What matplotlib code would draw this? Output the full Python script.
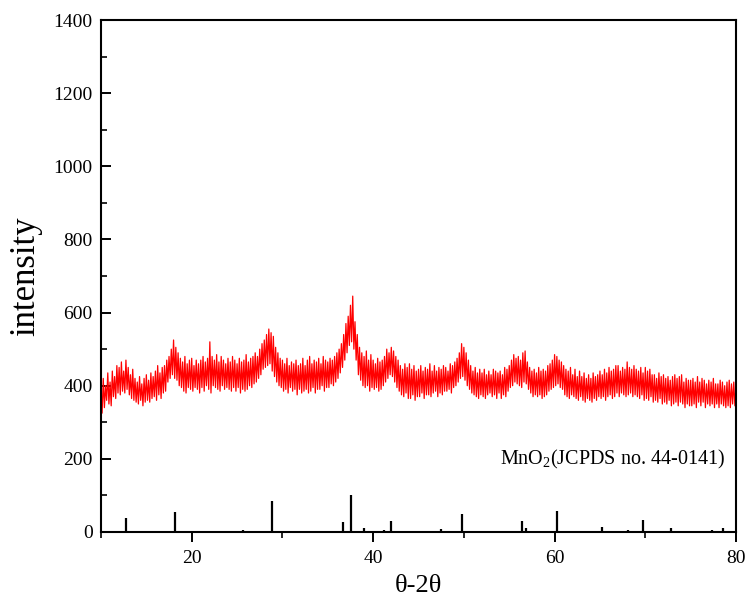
import numpy as np
import matplotlib
matplotlib.use("Agg")
import matplotlib.pyplot as plt
from matplotlib.ticker import MultipleLocator

plt.rcParams['font.family'] = ['Liberation Serif', 'DejaVu Serif']
plt.rcParams['mathtext.fontset'] = 'custom'
plt.rcParams['mathtext.rm'] = 'Liberation Serif'

# --- measured pattern, read off the scan:
# local maxima every 0.25 deg from 10.0, local minima every 0.25 deg from 10.125
start_hi, start_lo, step = 10.0, 10.125, 0.25
upper = [390, 420, 400, 435, 410, 440, 425, 455, 450, 465, 440, 470,
         450, 430, 445, 420, 410, 425, 405, 420, 430, 415, 435, 425,
         440, 455, 435, 450, 455, 470, 480, 500, 525, 505, 490, 475,
         465, 480, 460, 470, 475, 455, 470, 460, 470, 480, 465, 475,
         520, 480, 470, 485, 465, 480, 470, 460, 475, 465, 480, 470,
         460, 475, 465, 470, 485, 465, 475, 480, 490, 480, 500, 515,
         525, 540, 555, 545, 535, 505, 490, 475, 470, 460, 475, 455,
         465, 460, 470, 455, 460, 475, 455, 470, 480, 460, 470, 465,
         475, 460, 480, 470, 465, 475, 470, 480, 490, 500, 515, 540,
         570, 590, 620, 645, 575, 540, 505, 490, 480, 495, 470, 485,
         470, 460, 475, 465, 470, 480, 500, 490, 505, 495, 480, 470,
         455, 445, 460, 450, 460, 445, 455, 440, 445, 455, 440, 450,
         445, 460, 440, 455, 440, 450, 445, 455, 450, 440, 460, 455,
         465, 475, 490, 515, 505, 490, 470, 455, 440, 450, 435, 445,
         435, 445, 430, 440, 430, 445, 440, 435, 440, 430, 450, 445,
         455, 470, 485, 475, 480, 470, 490, 495, 465, 450, 440, 445,
         435, 450, 440, 445, 440, 455, 460, 470, 485, 480, 470, 465,
         455, 445, 440, 450, 430, 445, 425, 440, 425, 435, 420, 430,
         420, 435, 425, 430, 440, 430, 445, 435, 450, 440, 445, 455,
         455, 440, 450, 445, 465, 450, 445, 455, 445, 440, 450, 435,
         450, 440, 445, 430, 430, 420, 435, 425, 430, 420, 425, 415,
         425, 430, 420, 425, 430, 410, 420, 415, 415, 420, 410, 425,
         410, 420, 415, 405, 415, 410, 420, 405, 405, 415, 410, 400,
         410, 415, 405, 410, 400]
lower = [325, 340, 360, 350, 345, 370, 365, 380, 375, 385, 380, 390,
         375, 365, 360, 355, 350, 360, 345, 355, 360, 355, 365, 370,
         360, 375, 365, 380, 385, 410, 420, 430, 420, 415, 400, 395,
         385, 380, 395, 390, 385, 395, 390, 380, 395, 385, 400, 390,
         380, 400, 395, 390, 385, 400, 390, 395, 390, 385, 395, 385,
         395, 380, 390, 385, 390, 400, 395, 405, 410, 420, 430, 445,
         450, 455, 460, 440, 425, 410, 400, 395, 385, 390, 380, 395,
         385, 390, 375, 390, 380, 385, 390, 380, 385, 395, 380, 390,
         390, 400, 385, 395, 395, 405, 400, 410, 420, 435, 450, 470,
         490, 510, 520, 500, 470, 430, 415, 400, 395, 400, 385, 395,
         390, 395, 385, 390, 400, 410, 420, 430, 425, 410, 395, 385,
         375, 370, 380, 365, 365, 375, 360, 370, 370, 380, 365, 375,
         375, 370, 380, 385, 370, 380, 375, 385, 385, 390, 380, 395,
         400, 410, 420, 425, 415, 400, 390, 380, 375, 370, 365, 375,
         370, 365, 375, 380, 370, 375, 365, 380, 365, 375, 370, 385,
         395, 400, 410, 405, 400, 395, 410, 405, 390, 380, 370, 375,
         370, 375, 365, 370, 375, 385, 390, 395, 400, 405, 395, 390,
         375, 370, 365, 375, 370, 365, 360, 370, 360, 355, 365, 360,
         355, 365, 360, 370, 365, 370, 360, 370, 375, 365, 370, 380,
         370, 380, 375, 370, 375, 380, 370, 375, 370, 365, 375, 360,
         365, 360, 370, 355, 360, 355, 365, 350, 355, 350, 360, 345,
         350, 355, 345, 355, 350, 340, 350, 345, 345, 350, 340, 355,
         345, 355, 340, 350, 345, 350, 340, 350, 340, 350, 345, 340,
         345, 340, 350, 345]

# --- reference card MnO2 (JCPDS 44-0141)
ref_pos = [12.8, 18.15, 25.7, 28.9, 36.7, 37.55, 39.0, 41.2, 42.0, 46.1, 47.5, 49.8,
           56.4, 56.9, 60.3, 65.2, 66.8, 68.1, 69.7, 72.8, 73.8, 77.3, 78.6]
ref_int = [39, 55, 6, 84, 26, 102, 11, 6, 30, 4, 7, 50,
           29, 10, 58, 14, 4, 6, 34, 11, 4, 5, 11]

x_hi = start_hi + step * np.arange(len(upper))
x_lo = start_lo + step * np.arange(len(lower))
x = np.empty(len(x_hi) + len(x_lo))
y = np.empty_like(x)
x[0::2], y[0::2] = x_hi, upper
x[1::2], y[1::2] = x_lo, lower

fig = plt.figure(figsize=(7.48, 6.07), dpi=100)
ax = fig.add_axes([0.135, 0.1236, 0.849, 0.8434])

ax.plot(x, y, color='#ff0000', lw=0.9)
ax.vlines(ref_pos, 0, ref_int, color='black', lw=1.6)
ax.text(78.8, 197, r'MnO$_2$(JCPDS no. 44-0141)', ha='right', va='center', fontsize=14.5)

ax.set_xlim(10, 80)
ax.set_ylim(0, 1400)
ax.xaxis.set_major_locator(MultipleLocator(20))
ax.xaxis.set_minor_locator(MultipleLocator(10))
ax.yaxis.set_major_locator(MultipleLocator(200))
ax.yaxis.set_minor_locator(MultipleLocator(100))
ax.tick_params(axis='x', which='major', direction='out', length=7, width=1.4, labelsize=14, pad=6)
ax.tick_params(axis='x', which='minor', direction='out', length=4, width=1.2)
ax.tick_params(axis='y', which='major', direction='in', length=7, width=1.4, labelsize=14, pad=6)
ax.tick_params(axis='y', which='minor', direction='in', length=4, width=1.2)
ax.set_xticks([20, 40, 60, 80])
for s in ax.spines.values():
    s.set_linewidth(1.5)

ax.set_xlabel('θ-2θ', fontsize=19, labelpad=6)
ax.set_ylabel('intensity', fontsize=25, labelpad=8)

fig.savefig('out.png', dpi=100)
